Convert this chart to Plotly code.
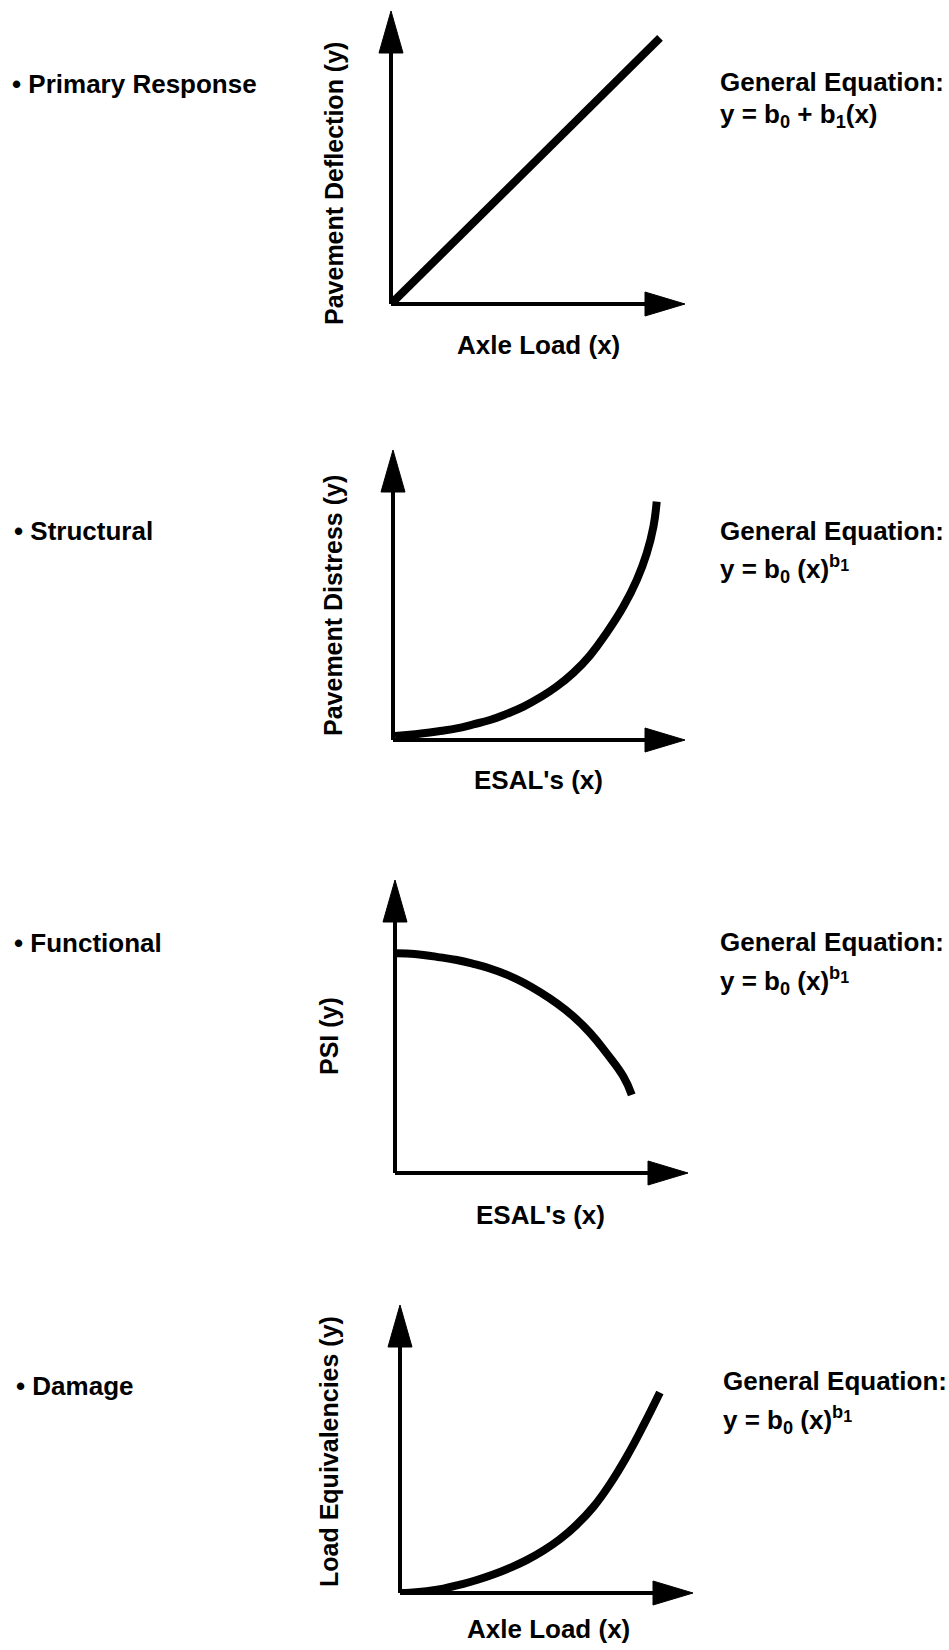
import plotly.graph_objects as go

W, H = 949, 1650

# ---- data (arbitrary units, axes run 0..10 up to the arrow tips) ----
categories = ["Primary Response", "Structural", "Functional", "Damage"]
x_titles = ["Axle Load (x)", "ESAL's (x)", "ESAL's (x)", "Axle Load (x)"]
y_titles = ["Pavement Deflection (y)", "Pavement Distress (y)", "PSI (y)", "Load Equivalencies (y)"]
SUB1 = "<sub><span style='font-size:16px'>1</span></sub>"
equations = [
    "y = b<sub>0</sub> + b<sub>1</sub>(x)",
    "y = b<sub>0</sub> (x)<sup>b" + SUB1 + "</sup>",
    "y = b<sub>0</sub> (x)<sup>b" + SUB1 + "</sup>",
    "y = b<sub>0</sub> (x)<sup>b" + SUB1 + "</sup>",
]

primary_x = [0, 9.15]
primary_y = [0, 9.08]
structural_x = [0.07, 0.47, 1.04, 1.61, 2.18, 2.75, 3.32, 3.89, 4.47, 5.04, 5.60, 6.18, 6.75,
                7.32, 7.89, 8.35, 8.69, 8.92, 9.03]
structural_y = [0.14, 0.17, 0.23, 0.31, 0.40, 0.54, 0.69, 0.90, 1.15, 1.47, 1.84, 2.32, 2.92,
                3.70, 4.60, 5.52, 6.44, 7.36, 8.22]
functional_x = [0.0, 0.40, 0.97, 1.54, 2.11, 2.67, 3.24, 3.81, 4.38, 4.95, 5.52, 6.09, 6.66,
                7.22, 7.79, 8.08]
functional_y = [7.50, 7.49, 7.44, 7.36, 7.27, 7.14, 6.98, 6.77, 6.50, 6.17, 5.79, 5.34, 4.78,
                4.09, 3.30, 2.67]
damage_x = [0, 0.34, 0.91, 1.48, 2.05, 2.62, 3.18, 3.75, 4.32, 4.89, 5.46, 6.03, 6.60, 7.17,
            7.74, 8.30, 8.87]
damage_y = [0.0, 0.01, 0.06, 0.15, 0.29, 0.45, 0.64, 0.87, 1.14, 1.47, 1.87, 2.37, 2.99, 3.79,
            4.74, 5.80, 6.96]

series = [(primary_x, primary_y), (structural_x, structural_y),
          (functional_x, functional_y), (damage_x, damage_y)]

# ---- layout geometry (pixels) ----
# plot boxes: (left, right, top, bottom) -> origin at (left, bottom), arrow tips at right/top
boxes = [(391, 685, 11, 304), (393, 685, 450, 740), (395, 688, 880, 1173), (400, 693, 1305, 1593)]
cat_pos = [(10, 84), (12, 531), (12, 943), (14, 1386)]
geq_pos = [(718, 82, 115), (718, 531, 569), (718, 942, 981), (721, 1381, 1420)]
xt_pos = [(538, 345), (538, 780), (540, 1215), (548, 1629)]
yt_pos = [(334, 184), (333, 606), (329, 1036), (329, 1452)]

FONT = dict(family="Liberation Sans, Arial, Helvetica, sans-serif", size=26, color="black", weight="bold")
YFONT = dict(FONT, size=25)

def px(x):
    return x / W

def py(y):
    return 1 - y / H

fig = go.Figure()
layout = dict(width=W, height=H, margin=dict(l=0, r=0, t=0, b=0),
              paper_bgcolor="white", plot_bgcolor="white", showlegend=False)
shapes = []
annotations = []

for i, (b, (sx, sy)) in enumerate(zip(boxes, series)):
    n = "" if i == 0 else str(i + 1)
    xa, ya = "x" + n, "y" + n
    left, right, top, bottom = b
    ax_common = dict(range=[0, 10], showgrid=False, zeroline=False, showticklabels=False,
                     ticks="", showline=False, fixedrange=True)
    layout["xaxis" + n] = dict(domain=[px(left), px(right)], anchor=ya, **ax_common)
    layout["yaxis" + n] = dict(domain=[py(bottom), py(top)], anchor=xa, **ax_common)

    fig.add_trace(go.Scatter(x=sx, y=sy, xaxis=xa, yaxis=ya, mode="lines",
                             line=dict(color="black", width=8,
                                       shape="spline" if len(sx) > 2 else "linear", smoothing=1.3),
                             cliponaxis=False, hoverinfo="skip"))

    # axis lines
    shapes.append(dict(type="line", xref=xa + " domain", yref=ya + " domain",
                       x0=0, y0=0, x1=0, y1=0.9, line=dict(color="black", width=4)))
    shapes.append(dict(type="line", xref=xa + " domain", yref=ya + " domain",
                       x0=0, y0=0, x1=0.9, y1=0, line=dict(color="black", width=4)))
    # arrowheads (pixel-sized)
    shapes.append(dict(type="path", xref=xa + " domain", yref=ya + " domain",
                       xsizemode="pixel", ysizemode="pixel", xanchor=0, yanchor=1,
                       path="M -12,-42 L 0,0 L 12,-42 Z",
                       fillcolor="black", line=dict(color="black", width=1)))
    shapes.append(dict(type="path", xref=xa + " domain", yref=ya + " domain",
                       xsizemode="pixel", ysizemode="pixel", xanchor=1, yanchor=0,
                       path="M -40,12 L 0,0 L -40,-12 Z",
                       fillcolor="black", line=dict(color="black", width=1)))

    # texts
    cx, cy = cat_pos[i]
    annotations.append(dict(xref="paper", yref="paper", x=px(cx), y=py(cy), xanchor="left",
                            yanchor="middle", showarrow=False, text="\u2022 " + categories[i], font=FONT))
    gx, gy1, gy2 = geq_pos[i]
    annotations.append(dict(xref="paper", yref="paper", x=px(gx), y=py(gy1), xanchor="left",
                            yanchor="middle", showarrow=False, text="General Equation:", font=FONT))
    annotations.append(dict(xref="paper", yref="paper", x=px(gx), y=py(gy2), xanchor="left",
                            yanchor="middle", showarrow=False, text=equations[i], font=FONT))
    tx, ty = xt_pos[i]
    annotations.append(dict(xref="paper", yref="paper", x=px(tx), y=py(ty), xanchor="center",
                            yanchor="middle", showarrow=False, text=x_titles[i], font=FONT))
    yx, yy = yt_pos[i]
    annotations.append(dict(xref="paper", yref="paper", x=px(yx), y=py(yy), xanchor="center",
                            yanchor="middle", showarrow=False, text=y_titles[i], font=YFONT,
                            textangle=-90))

layout["shapes"] = shapes
layout["annotations"] = annotations
fig.update_layout(**layout)
fig.write_html("out.html", config={"displayModeBar": False},
               post_script="document.body.style.margin='0px';document.body.style.overflow='hidden';")
